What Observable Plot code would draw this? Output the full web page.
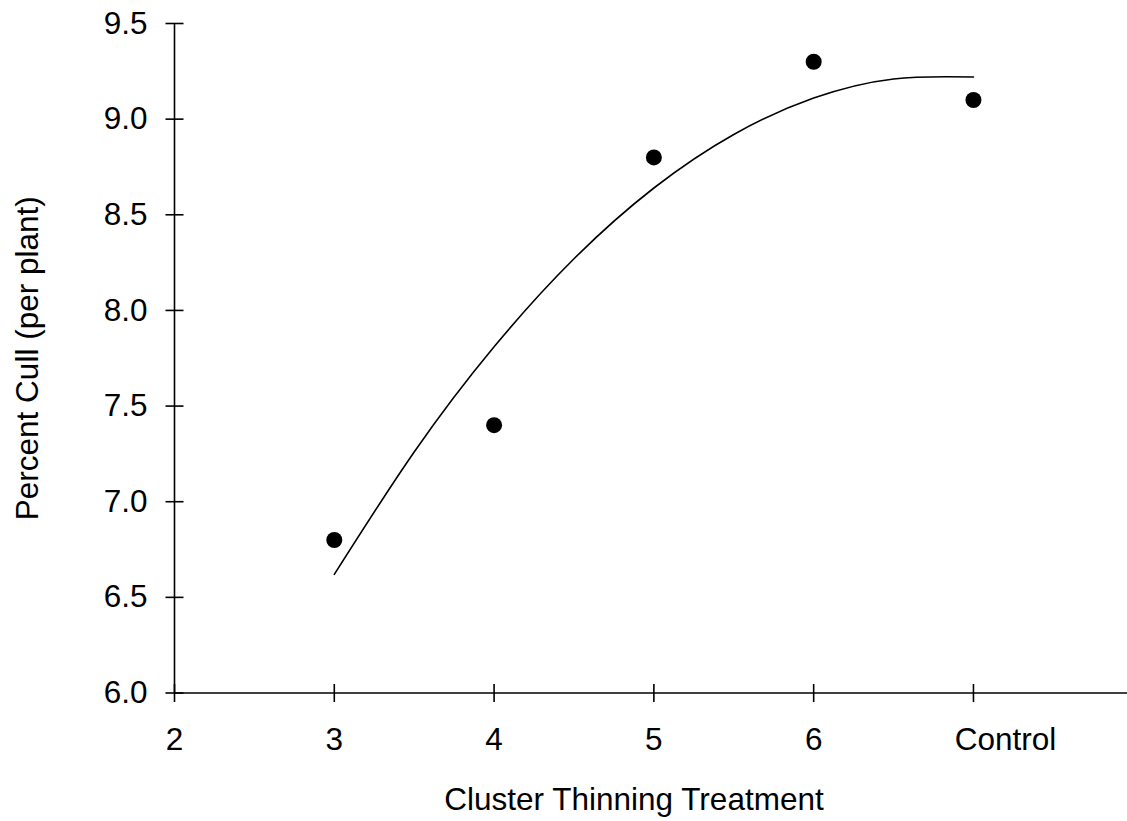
<!DOCTYPE html>
<html>
<head>
<meta charset="utf-8">
<script src="https://cdn.jsdelivr.net/npm/d3@7"></script>
<script src="https://cdn.jsdelivr.net/npm/@observablehq/plot@0.6"></script>
<style>
  html, body { margin: 0; padding: 0; background: #fff; }
</style>
</head>
<body>
<div id="chart"></div>
<script>
// Observed treatment means
const treatments = [3, 4, 5, 6, 7];            // 7 = Control
const percentCull = [6.8, 7.4, 8.8, 9.3, 9.1];

// Fitted curve
const curveX = [3, 3.5, 4, 4.5, 5, 5.5, 6, 6.5, 7];
const curveY = [6.62, 7.26, 7.81, 8.27, 8.64, 8.92, 9.11, 9.21, 9.22];

// Axis ticks
const xTicks = [2, 3, 4, 5, 6, 7];
const xTickLabels = ["2", "3", "4", "5", "6", "Control"];
const yTicks = [6.0, 6.5, 7.0, 7.5, 8.0, 8.5, 9.0, 9.5];

const xTitle = "Cluster Thinning Treatment";
const yTitle = "Percent Cull (per plant)";

const points = treatments.map((x, i) => ({x, y: percentCull[i]}));
const fit = curveX.map((x, i) => ({x, y: curveY[i]}));
const labelOf = new Map(xTicks.map((t, i) => [t, xTickLabels[i]]));

const FS = 31.5;
const hTick = {draw(ctx) { ctx.moveTo(-9, 0); ctx.lineTo(9, 0); }};
const vTick = {draw(ctx) { ctx.moveTo(0, -9); ctx.lineTo(0, 9); }};

const chart = Plot.plot({
  width: 1127,
  height: 821,
  marginLeft: 174,
  marginRight: 0,
  marginTop: 23,
  marginBottom: 128.5,
  style: {fontFamily: "'Liberation Sans', Arial, sans-serif", fontSize: FS + "px", color: "#000", background: "#fff"},
  x: {domain: [2, 7.964], axis: null},
  y: {domain: [6, 9.5], axis: null},
  marks: [
    // axis lines
    Plot.ruleX([2], {y1: 6, y2: 9.5, stroke: "#000", strokeWidth: 1.6}),
    Plot.ruleY([6], {x1: 2, x2: 7.964, stroke: "#000", strokeWidth: 1.6}),
    // crossing ticks
    Plot.dot(yTicks, {x: () => 2, y: d => d, symbol: hTick, r: 9, fill: "none", stroke: "#000", strokeWidth: 1.6}),
    Plot.dot(xTicks, {x: d => d, y: () => 6, symbol: vTick, r: 9, fill: "none", stroke: "#000", strokeWidth: 1.6}),
    // tick labels
    Plot.text(yTicks, {y: d => d, frameAnchor: "left", dx: -27, textAnchor: "end", text: d3.format(".1f"), fontSize: FS, fill: "#000"}),
    Plot.text(xTicks.filter(t => t !== 7), {x: d => d, frameAnchor: "bottom", dy: 35, lineAnchor: "top", text: t => labelOf.get(t), fontSize: FS, fill: "#000"}),
    Plot.text([7], {x: d => d, frameAnchor: "bottom", dy: 35, dx: 32, lineAnchor: "top", text: t => labelOf.get(t), fontSize: FS, fill: "#000"}),
    // titles
    Plot.text([xTitle], {frameAnchor: "bottom", dx: -17, dy: 107, fontSize: FS, fill: "#000", lineAnchor: "middle", textAnchor: "middle"}),
    Plot.text([yTitle], {frameAnchor: "left", dx: -147, rotate: -90, fontSize: FS, fill: "#000", lineAnchor: "middle", textAnchor: "middle"}),
    // fitted curve
    Plot.line(fit, {x: "x", y: "y", curve: "natural", stroke: "#000", strokeWidth: 1.6}),
    // observed points
    Plot.dot(points, {x: "x", y: "y", r: 8, fill: "#000", stroke: "none"})
  ]
});

document.getElementById("chart").appendChild(chart);
</script>
</body>
</html>
